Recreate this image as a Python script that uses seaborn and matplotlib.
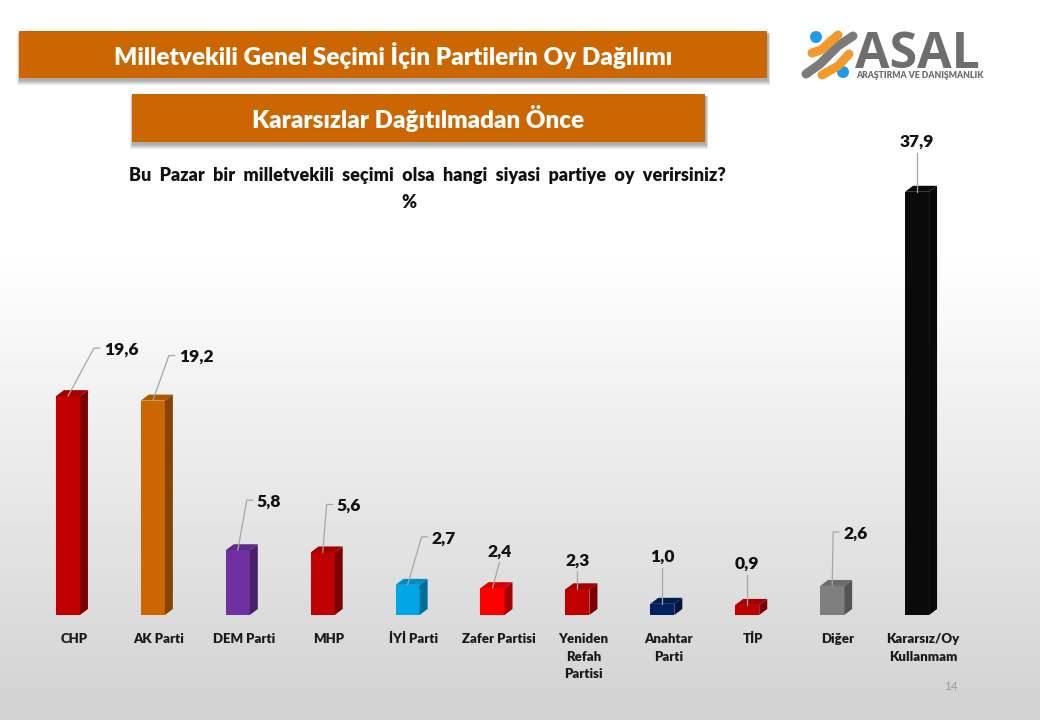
"""Milletvekili secimi oy dagilimi, 3D look bars on a grey slide."""
import numpy as np
import pandas as pd
import matplotlib
matplotlib.use("Agg")
import matplotlib.pyplot as plt
import matplotlib.colors as mcolors
from matplotlib.patches import Polygon, Rectangle, Circle
from matplotlib.transforms import ScaledTranslation
import seaborn as sns

# ---- Data -------------------------------------------------------------------

parties = ["CHP", "AK Parti", "DEM Parti", "MHP", "İYİ Parti", "Zafer Partisi",
           "Yeniden\nRefah\nPartisi", "Anahtar\nParti", "TİP", "Diğer",
           "Kararsız/Oy\nKullanmam"]
shares = [19.6, 19.2, 5.8, 5.6, 2.7, 2.4, 2.3, 1.0, 0.9, 2.6, 37.9]
labels = ["19,6", "19,2", "5,8", "5,6", "2,7", "2,4", "2,3", "1,0", "0,9", "2,6", "37,9"]
colors = ["#C00000", "#CC6600", "#7030A0", "#C00000", "#00A6E6", "#FF0000",
          "#C00000", "#002060", "#C00000", "#7F7F7F", "#0A0A0A"]

# leader line: elbow in pixels relative to top of bar
elbows = [(26, -48), (16, -45), (9, -50), (4, -48), (14, -48), (7, -26),
          (0, -18), (0, -36), (0, -30), (1, -54), (0, -39)]
has_shelf = [True, True, True, True, True, False, False, False, False, True, False]

FONT = "Lato"
HEAVY = 800
W, H = 1040, 720
DEPTH_X, DEPTH_Y = 8, 6

sns.set_theme(style="white")
plt.rcParams["font.family"] = [FONT, "DejaVu Sans"]

fig = plt.figure(figsize=(W / 100, H / 100), dpi=100)

# ---- Slide background -------------------------------------------------------

bg = fig.add_axes([0, 0, 1, 1], zorder=0)
grad = np.interp(np.arange(H), [0, 250, 720], [1.0, 1.0, 0.82]).reshape(-1, 1)
bg.imshow(grad, cmap="gray", vmin=0, vmax=1, aspect="auto", extent=(0, W, H, 0))
bg.set_xlim(0, W)
bg.set_ylim(H, 0)
bg.axis("off")


def header(x0, y0, x1, y1, text, size):
    # soft drop shadow from stacked translucent boxes, mostly below the box
    for grow in range(5, 0, -1):
        bg.add_patch(Rectangle((x0 - grow / 2 + 0.5, y0 + 2),
                               x1 - x0 + grow, y1 - y0 + grow,
                               fc="black", ec="none", alpha=0.07))
    bg.add_patch(Rectangle((x0, y0), x1 - x0, y1 - y0, fc="#CC6600", ec="none"))
    bg.text((x0 + x1) / 2, (y0 + y1) / 2 + 0.7, text, color="white", fontsize=size,
            fontweight=HEAVY, ha="center", va="center")


header(19, 31, 767, 78, "Milletvekili Genel Seçimi İçin Partilerin Oy Dağılımı", 17.5)
header(132, 94, 705, 142, "Kararsızlar Dağıtılmadan Önce", 17.4)

bg.text(427, 176, "Bu  Pazar  bir  milletvekili  seçimi  olsa  hangi  siyasi  partiye  oy  verirsiniz?",
        fontsize=13.0, fontweight=HEAVY, color="#111111", ha="center", va="center")
bg.text(409, 202, "%", fontsize=13, fontweight=HEAVY, color="#111111", ha="center", va="center")
bg.text(951, 687, "14", fontsize=8.5, color="#9A9A9A", ha="center", va="center")

# ---- Logo -------------------------------------------------------------------

bg.add_patch(Rectangle((798, 25), 190, 60, fc="white", ec="none"))
bg.plot([806, 820, 838, 853], [74, 64, 46, 36], color="#7B7B7B", lw=6.5, solid_capstyle="round")
bg.plot([812, 821, 838], [53, 50, 35], color="#F39A2D", lw=6.5, solid_capstyle="round")
bg.plot([822, 838, 849], [75, 66, 54], color="#F39A2D", lw=6.5, solid_capstyle="round")
bg.add_patch(Circle((816, 37), 6, fc="#1E9BE8", ec="none"))
bg.add_patch(Circle((843, 72), 6, fc="#1E9BE8", ec="none"))
bg.text(855, 68, "ASAL", fontsize=36, fontweight="bold", color="#6E6E6E", ha="left", va="baseline",
        family="Open Sans")
bg.text(856, 75.5, "ARAŞTIRMA VE DANIŞMANLIK", fontsize=6.2, fontweight=HEAVY, color="#6E6E6E",
        ha="left", va="center")

# ---- Bars -------------------------------------------------------------------

left, right, bottom, top = 25.5, 959.5, 615, 146
ax = fig.add_axes([left / W, 1 - bottom / H, (right - left) / W, (bottom - top) / H], zorder=2)
ax.patch.set_alpha(0)

df = pd.DataFrame({"party": parties, "share": shares})
sns.barplot(data=df, x="party", y="share", hue="party", palette=colors, dodge=False,
            legend=False, width=0.283, saturation=1, linewidth=0, ax=ax)

ax.set_xlim(-0.5, len(parties) - 0.5)
ax.set_ylim(0, 42)
ax.set_xlabel("")
ax.set_ylabel("")
ax.set_yticks([])
ax.tick_params(axis="x", length=0, pad=13)
sns.despine(ax=ax, left=True, bottom=True)
# category labels sit centred under the bar including its depth
shift = ScaledTranslation(6 / 100, 0, fig.dpi_scale_trans)
for tick in ax.get_xticklabels():
    tick.set_fontsize(9.5)
    tick.set_fontweight(HEAVY)
    tick.set_color("#1A1A1A")
    tick.set_linespacing(1.55)
    tick.set_transform(tick.get_transform() + shift)

# pixels to data units
px_x = 1 / ((right - left) / len(parties))
px_y = 42 / (bottom - top)
dx, dy = DEPTH_X * px_x, DEPTH_Y * px_y

bars = sorted([p for p in ax.patches if p.get_height() > 0], key=lambda p: p.get_x())
for bar, label, elbow, shelf in zip(bars, labels, elbows, has_shelf):
    x0, w, h = bar.get_x(), bar.get_width(), bar.get_height()
    x1 = x0 + w
    base = np.array(mcolors.to_rgb(bar.get_facecolor()))
    side = tuple(base * 0.66)
    lid = tuple(base * 0.85)
    ax.add_patch(Polygon([(x1, 0), (x1 + dx, dy), (x1 + dx, h + dy), (x1, h)], fc=side, ec="none"))
    ax.add_patch(Polygon([(x0, h), (x0 + dx, h + dy), (x1 + dx, h + dy), (x1, h)], fc=lid, ec="none"))

    # leader line and value
    cx = x0 + w / 2
    ex, ey = cx + elbow[0] * px_x, h - elbow[1] * px_y
    if shelf:
        sx = ex + 6 * px_x
        ax.plot([cx, ex, sx], [h, ey, ey], color="#A6A6A6", lw=0.9, zorder=5)
        ax.text(sx + 4 * px_x, ey - 1.5 * px_y, label, fontsize=12.5, fontweight=HEAVY,
                color="#111111", ha="left", va="center")
    else:
        ax.plot([cx, ex], [h, ey], color="#A6A6A6", lw=0.9, zorder=5)
        ax.text(ex, ey + 11 * px_y, label, fontsize=12.5, fontweight=HEAVY,
                color="#111111", ha="center", va="center")

fig.savefig("out.png", dpi=100)
